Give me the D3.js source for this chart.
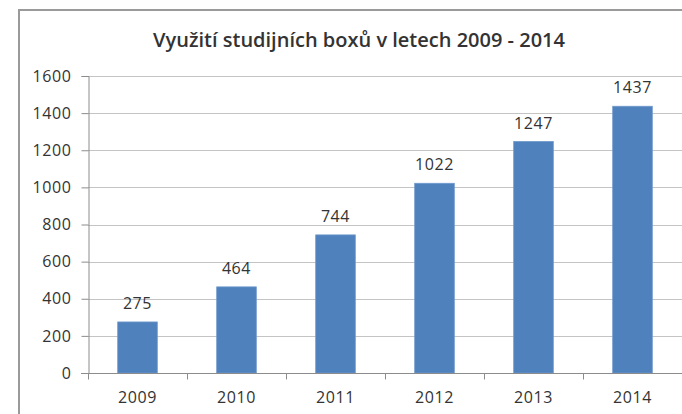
<html lang="cs">
<head>
<meta charset="utf-8">
<title>Využití studijních boxů</title>
<script src="https://cdn.jsdelivr.net/npm/d3@7"></script>
<style>
  body { margin: 0; background: #fff; }
  text { font-family: "Open Sans", "DejaVu Sans", sans-serif; fill: #333; }
</style>
</head>
<body>
<div id="chart"></div>
<script>
const years = ["2009", "2010", "2011", "2012", "2013", "2014"];
const values = [275, 464, 744, 1022, 1247, 1437];
const yTicks = [0, 200, 400, 600, 800, 1000, 1200, 1400, 1600];
const title = "Využití studijních boxů v letech 2009 - 2014";

const width = 682, height = 414;
const margin = {top: 76, right: 0, bottom: 41, left: 88};

const svg = d3.select("#chart").append("svg")
    .attr("width", width).attr("height", height);

// outer frame (cropped on the right and bottom)
svg.append("rect")
    .attr("x", 19).attr("y", 10)
    .attr("width", 700).attr("height", 440)
    .attr("fill", "#fff").attr("stroke", "#9a9a9a").attr("stroke-width", 2);

const x = d3.scaleBand().domain(years)
    .range([margin.left, 682]).paddingInner(0.6).paddingOuter(0.3);
const y = d3.scaleLinear().domain([0, 1600])
    .range([height - margin.bottom, margin.top]);

// gridlines
svg.append("g").selectAll("line").data(yTicks.filter(d => d > 0)).join("line")
    .attr("x1", margin.left).attr("x2", width)
    .attr("y1", d => Math.round(y(d)) + 0.5).attr("y2", d => Math.round(y(d)) + 0.5)
    .attr("stroke", "#c4c4c4").attr("stroke-width", 1);

// bars
svg.append("g").selectAll("rect").data(values).join("rect")
    .attr("x", (d, i) => x(years[i]))
    .attr("width", x.bandwidth())
    .attr("y", d => y(d))
    .attr("height", d => y(0) - y(d))
    .attr("fill", "#4f81bd").attr("stroke", "#6f98cc").attr("stroke-width", 0.8);

// value labels
svg.append("g").selectAll("text").data(values).join("text")
    .attr("x", (d, i) => x(years[i]) + x.bandwidth() / 2)
    .attr("y", d => y(d) - 13)
    .attr("text-anchor", "middle").attr("font-size", "16px").attr("letter-spacing", "0.6px")
    .text(d => d);

// y axis
const yAxis = svg.append("g").attr("transform", `translate(${margin.left + 0.5},0)`)
    .call(d3.axisLeft(y).tickValues(yTicks).tickSize(7).tickPadding(10).tickFormat(d3.format("d")));
yAxis.selectAll("line, path").attr("stroke", "#8c8c8c");
yAxis.selectAll("text").attr("font-size", "16px").attr("letter-spacing", "0.6px").attr("fill", "#333");

// x axis with ticks between categories
const xAxisG = svg.append("g").attr("transform", `translate(0,${Math.round(y(0)) + 0.5})`);
xAxisG.append("line").attr("x1", margin.left - 7).attr("x2", width)
    .attr("stroke", "#8c8c8c");
const bounds = d3.range(years.length + 1).map(i => margin.left + i * (width - margin.left) / years.length);
xAxisG.selectAll("line.tk").data(bounds).join("line").attr("class", "tk")
    .attr("x1", d => Math.round(d) + 0.5).attr("x2", d => Math.round(d) + 0.5)
    .attr("y1", 0).attr("y2", 6).attr("stroke", "#8c8c8c");
xAxisG.selectAll("text").data(years).join("text")
    .attr("x", d => x(d) + x.bandwidth() / 2).attr("y", 29)
    .attr("text-anchor", "middle").attr("font-size", "16px").attr("letter-spacing", "0.6px")
    .text(d => d);

// title
svg.append("text").attr("x", 359).attr("y", 47)
    .attr("text-anchor", "middle").attr("font-size", "20px").attr("font-weight", 600)
    .attr("fill", "#111")
    .text(title);
</script>
</body>
</html>
